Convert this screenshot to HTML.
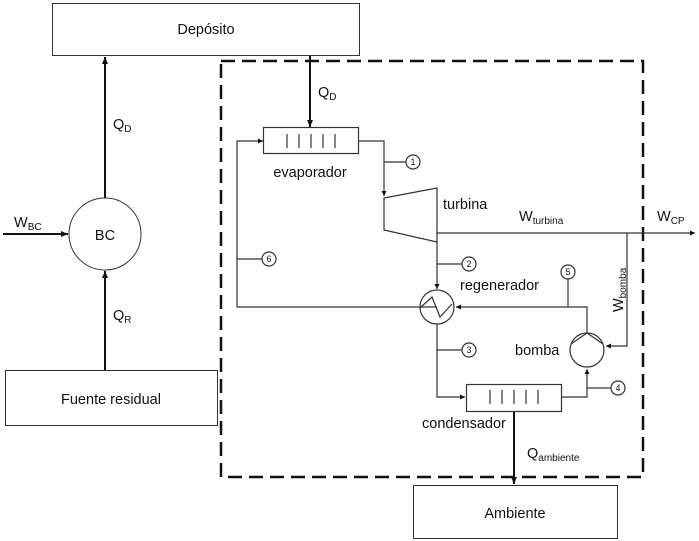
<!DOCTYPE html>
<html><head><meta charset="utf-8"><style>
html,body{margin:0;padding:0;background:#fff}
svg{display:block}
text{font-family:"Liberation Sans",sans-serif;fill:#111}
</style></head><body>
<svg width="699" height="541" viewBox="0 0 699 541" xmlns="http://www.w3.org/2000/svg">
<defs>
<marker id="a" markerWidth="8" markerHeight="8" refX="7" refY="4" orient="auto" markerUnits="userSpaceOnUse"><path d="M0,1 L7,4 L0,7z" fill="#111"/></marker>
<marker id="s" markerWidth="6" markerHeight="6" refX="5" refY="3" orient="auto" markerUnits="userSpaceOnUse"><path d="M0,0.5 L5,3 L0,5.5z" fill="#111"/></marker>
</defs>
<g fill="none" stroke="#333" stroke-width="1">
<rect x="52.5" y="3.5" width="307" height="52"/>
<rect x="5.5" y="370.5" width="212" height="55"/>
<rect x="413.5" y="485.5" width="204" height="53"/>
</g>
<rect x="221" y="61" width="422" height="416" fill="none" stroke="#111" stroke-width="2.5" stroke-dasharray="14,7"/>
<g stroke="#111" stroke-width="2" fill="none">
<line x1="105" y1="198" x2="105" y2="57" marker-end="url(#a)"/>
<line x1="105" y1="370" x2="105" y2="271" marker-end="url(#a)"/>
<line x1="3" y1="234" x2="68" y2="234" marker-end="url(#a)"/>
<line x1="310" y1="56" x2="310" y2="127" marker-end="url(#a)"/>
<line x1="514" y1="411" x2="514" y2="484" marker-end="url(#a)"/>
</g>
<circle cx="105" cy="234" r="36" fill="none" stroke="#333"/>
<g stroke="#333" stroke-width="1.2" fill="none">
<rect x="263.5" y="127.5" width="95" height="26"/>
<path d="M287,134v14M299,134v14M311,134v14M323,134v14M335,134v14"/>
<polyline points="437,307 237,307 237,141 263,141" marker-end="url(#s)"/>
<polyline points="358,141 384,141 384,196" marker-end="url(#s)"/>
<line x1="384" y1="162" x2="406" y2="162"/>
<circle cx="413" cy="162" r="7"/>
<path d="M384,198 L437,188 L437,242 L384,230z"/>
<line x1="437" y1="233" x2="695" y2="233" marker-end="url(#s)"/>
<polyline points="627,233 627,346 606,346" marker-end="url(#s)"/>
<line x1="237" y1="259" x2="262" y2="259"/>
<circle cx="269" cy="259" r="7"/>
<line x1="437" y1="242" x2="437" y2="289" marker-end="url(#s)"/>
<line x1="437" y1="264" x2="462" y2="264"/>
<circle cx="469" cy="264" r="7"/>
<circle cx="437" cy="307" r="17"/>
<polyline points="421,307 432,297 440,317 452,304"/>
<polyline points="587,333 587,307 456,307" marker-end="url(#s)"/>
<line x1="568" y1="307" x2="568" y2="279"/>
<circle cx="568" cy="272" r="7"/>
<circle cx="587" cy="350" r="17"/>
<polyline points="571,344 587,333 603,344"/>
<line x1="437" y1="324" x2="437" y2="350"/>
<line x1="437" y1="350" x2="462" y2="350"/>
<circle cx="469" cy="350" r="7"/>
<polyline points="437,350 437,397 465,397" marker-end="url(#s)"/>
<rect x="466.5" y="384.5" width="95" height="27"/>
<path d="M490,390v14M502,390v14M514,390v14M526,390v14M538,390v14"/>
<polyline points="561,397 587,397 587,369" marker-end="url(#s)"/>
<line x1="587" y1="388" x2="611" y2="388"/>
<circle cx="618" cy="388" r="7"/>
</g>
<g font-size="9" text-anchor="middle">
<text x="413" y="165">1</text><text x="469" y="267">2</text><text x="469" y="353">3</text>
<text x="618" y="391">4</text><text x="568" y="275">5</text><text x="269" y="262">6</text>
</g>
<g font-size="14.5">
<text x="206" y="34" text-anchor="middle">Depósito</text>
<text x="111" y="404" text-anchor="middle">Fuente residual</text>
<text x="515" y="518" text-anchor="middle">Ambiente</text>
<text x="105" y="240" text-anchor="middle">BC</text>
<text x="310" y="177" text-anchor="middle">evaporador</text>
<text x="443" y="209">turbina</text>
<text x="460" y="290">regenerador</text>
<text x="515" y="355">bomba</text>
<text x="422" y="428">condensador</text>
<text x="113" y="129">Q<tspan font-size="10" dy="3">D</tspan></text>
<text x="113" y="320">Q<tspan font-size="10" dy="3">R</tspan></text>
<text x="318" y="97">Q<tspan font-size="10" dy="3">D</tspan></text>
<text x="14" y="227">W<tspan font-size="10" dy="3">BC</tspan></text>
<text x="519" y="221">W<tspan font-size="10" dy="3">turbina</tspan></text>
<text x="657" y="221">W<tspan font-size="10" dy="3">CP</tspan></text>
<text x="527" y="458">Q<tspan font-size="10" dy="3">ambiente</tspan></text>
<text transform="translate(623,312) rotate(-90)">W<tspan font-size="10" dy="3">bomba</tspan></text>
</g>
</svg>
</body></html>
